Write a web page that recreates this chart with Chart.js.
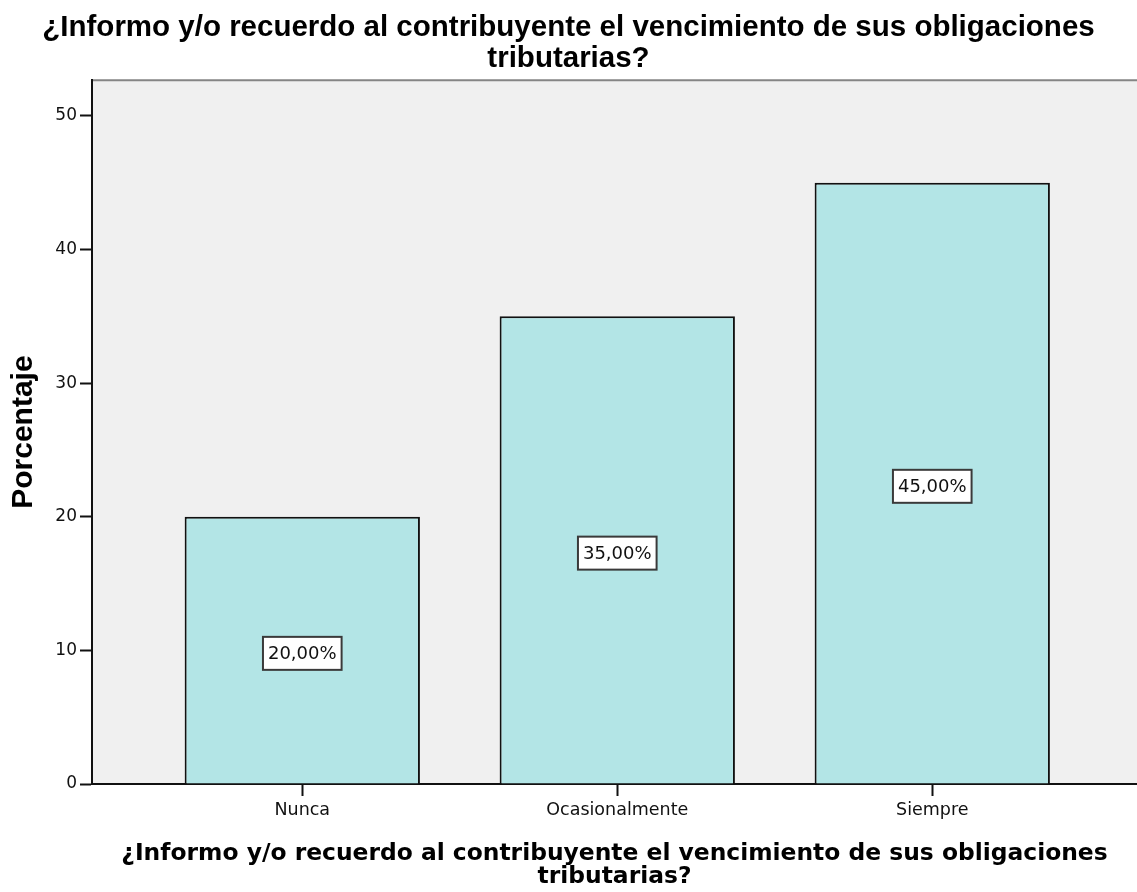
<!DOCTYPE html>
<html>
<head>
<meta charset="utf-8">
<script src="https://cdn.jsdelivr.net/npm/chart.js@4/dist/chart.umd.min.js"></script>
<style>
  html, body { margin: 0; padding: 0; background: #fff; }
  #wrap { width: 1137px; height: 892px; position: relative; }
</style>
</head>
<body>
<div id="wrap"><canvas id="grafico"></canvas></div>
<script>
const titulo = ['¿Informo y/o recuerdo al contribuyente el vencimiento de sus obligaciones', 'tributarias?']
const categorias = ['Nunca', 'Ocasionalmente', 'Siempre']
const porcentajes = [20, 35, 45]
const yTicks = [0, 10, 20, 30, 40, 50]

const puntos = categorias.map((c, i) => ({ x: i + 1, y: porcentajes[i] }))

// fondo gris del area y linea superior
const fondo = {
    id: 'fondo',
    beforeDraw(chart) {
        const { ctx, chartArea: a } = chart
        ctx.save()
        ctx.fillStyle = '#f0f0f0'
        ctx.fillRect(a.left, a.top, a.right - a.left, a.bottom - a.top)
        ctx.strokeStyle = '#858585'
        ctx.lineWidth = 2
        ctx.beginPath()
        ctx.moveTo(a.left, a.top)
        ctx.lineTo(a.right, a.top)
        ctx.stroke()
        ctx.restore()
    }
}

// etiquetas con caja blanca en el centro de cada barra
const etiquetas = {
    id: 'etiquetas',
    afterDatasetsDraw(chart) {
        const { ctx } = chart
        const yScale = chart.scales.y
        const meta = chart.getDatasetMeta(0)
        ctx.save()
        ctx.font = '18px "DejaVu Sans"'
        ctx.textAlign = 'center'
        ctx.textBaseline = 'middle'
        meta.data.forEach((bar, i) => {
            const v = porcentajes[i]
            const txt = v.toFixed(2).replace('.', ',') + '%'
            const y = yScale.getPixelForValue(v / 2) + 3
            const w = ctx.measureText(txt).width + 10
            const h = 33
            ctx.fillStyle = '#ffffff'
            ctx.fillRect(bar.x - w / 2, y - h / 2, w, h)
            ctx.strokeStyle = '#3a3a3a'
            ctx.lineWidth = 2
            ctx.strokeRect(bar.x - w / 2, y - h / 2, w, h)
            ctx.fillStyle = '#111'
            ctx.fillText(txt, bar.x, y + 1)
        })
        ctx.restore()
    }
}

const ctx = document.getElementById('grafico').getContext('2d')
const myChart = new Chart(ctx, {
    type: 'bar',
    data: {
        datasets: [{
            data: puntos,
            backgroundColor: '#b3e5e6',
            borderColor: '#111',
            borderWidth: 2,
            barPercentage: 0.747,
            categoryPercentage: 1
        }]
    },
    options: {
        responsive: true,
        maintainAspectRatio: false,
        animation: false,
        layout: { padding: 0 },
        plugins: {
            legend: { display: false },
            tooltip: { enabled: false },
            title: {
                display: true,
                text: titulo,
                color: '#000',
                font: { family: '"Liberation Sans", Arial, sans-serif', size: 29.5, weight: 'bold', lineHeight: 1.07 },
                padding: { top: 12, bottom: 5 }
            }
        },
        scales: {
            x: {
                type: 'linear',
                offset: false,
                min: 0.3324,
                max: 3.65,
                afterBuildTicks: (s) => { s.ticks = categorias.map((c, i) => ({ value: i + 1 })) },
                afterFit: (s) => { s.height = 108 },
                ticks: {
                    callback: (v) => categorias[v - 1],
                    color: '#111',
                    font: { family: '"DejaVu Sans"', size: 17.5 },
                    padding: 4,
                    maxRotation: 0
                },
                grid: { offset: false, drawOnChartArea: false, drawTicks: true, tickLength: 12, tickWidth: 2, tickColor: '#111' },
                border: { display: true, color: '#111', width: 2 },
                title: {
                    display: true,
                    text: titulo,
                    color: '#000',
                    font: { family: '"DejaVu Sans"', size: 23.4, weight: 'bold', lineHeight: 0.96 },
                    padding: { top: 0, bottom: 4 }
                }
            },
            y: {
                min: 0,
                max: 52.67,
                afterBuildTicks: (s) => { s.ticks = yTicks.map((v) => ({ value: v })) },
                afterFit: (s) => { s.width = 92 },
                ticks: {
                    color: '#111',
                    font: { family: '"DejaVu Sans"', size: 17 },
                    padding: 3
                },
                grid: { drawOnChartArea: false, drawTicks: true, tickLength: 12, tickWidth: 2, tickColor: '#111' },
                border: { display: true, color: '#111', width: 2 },
                title: {
                    display: true,
                    text: 'Porcentaje',
                    color: '#000',
                    font: { family: '"Liberation Sans", Arial, sans-serif', size: 30, weight: 'bold', lineHeight: 1.2 },
                    padding: { top: 6, bottom: 0 }
                }
            }
        }
    },
    plugins: [fondo, etiquetas]
})
</script>
</body>
</html>
